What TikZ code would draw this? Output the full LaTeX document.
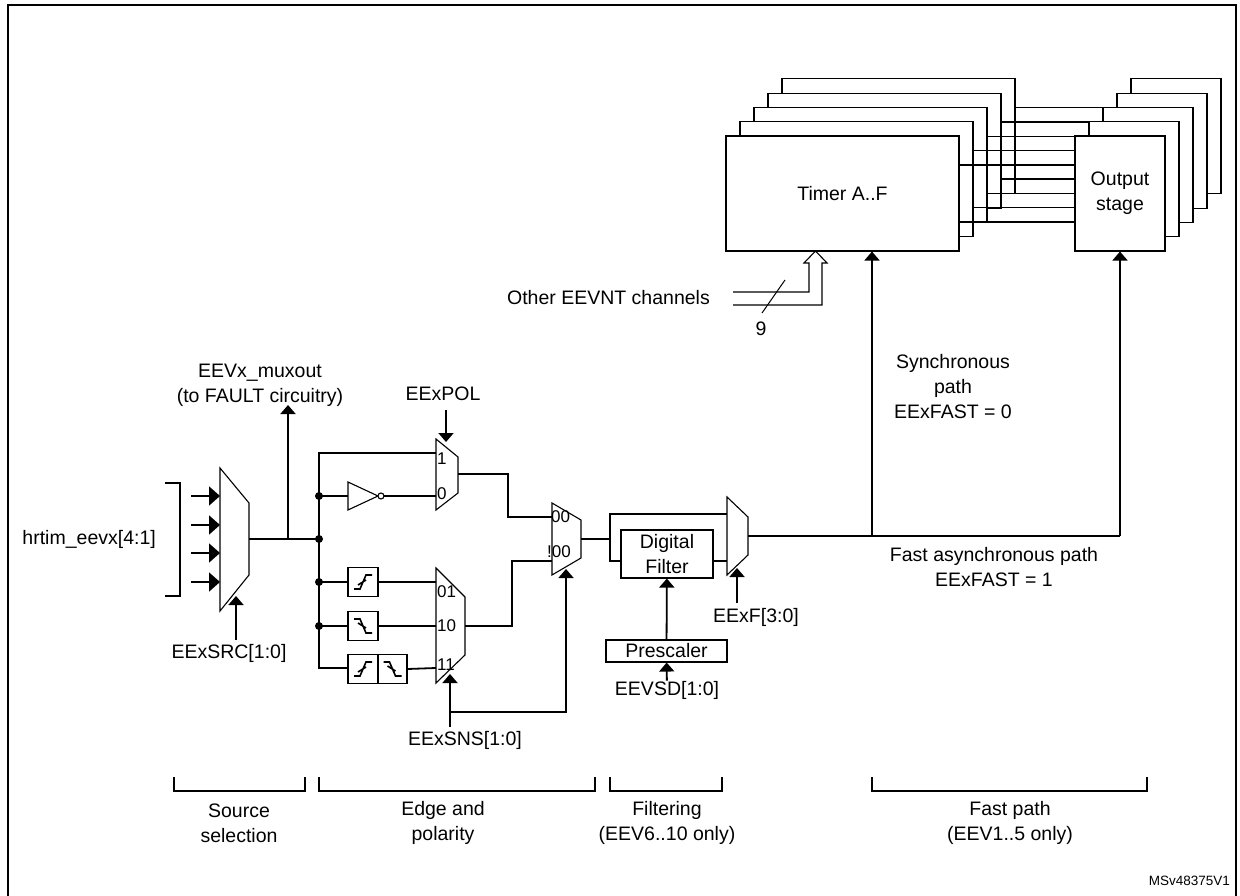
\documentclass[tikz,border=0pt]{standalone}
\usepackage{fontspec}
\setmainfont{Liberation Sans}
\usetikzlibrary{arrows.meta,positioning}

\tikzset{
  wire/.style={line width=1.8pt},
  sel/.style={wire,-{Triangle[length=9pt,width=15pt]}},
  inp/.style={wire,-{Triangle[length=11pt,width=19pt]}},
  blk/.style={draw,fill=white,line width=1.1pt,inner sep=0pt},
  txt/.style={font=\fontsize{19.5}{25}\selectfont,align=center,inner sep=0pt},
  sml/.style={font=\fontsize{17}{19}\selectfont,inner sep=1pt,anchor=west},
  dot/.style={circle,fill,inner sep=0pt,minimum size=8pt},
}
% mux outline: xl, xr, y left top, y left bottom, y right top, y right bottom
\newcommand{\muxbody}[6]{\draw[line width=1.1pt] (#1,#3) -- (#2,#5) -- (#2,#6) -- (#1,#4) -- cycle;}
% edge detectors drawn inside a box centred at (#1,#2)
\newcommand{\riseedge}[2]{\draw[line width=1.6pt,shift={(#1,#2)}] (-9,7) -- (-3,7) -- (3,-7) -- (9,-7) (-5,3) -- (3,-2);}
\newcommand{\falledge}[2]{\draw[line width=1.6pt,shift={(#1,#2)}] (-9,-7) -- (-3,-7) -- (3,7) -- (9,7) (-5,-3) -- (3,2);}

\begin{document}
\begin{tikzpicture}[x=1pt,y=-1pt]
  \useasboundingbox (0,0) rectangle (1240,896);
  \draw[line width=1.8pt] (8,900) -- (8,5) -- (1236,5) -- (1236,900);

  % timers and output stages, back to front
  \foreach \k in {4,3,2,1,0} {
    \node[blk,minimum width=233pt,minimum height=115pt] (tim\k) at (842.5+14*\k,193.5-14.3*\k) {};
    \node[blk,minimum width=90pt,minimum height=115pt] (out\k) at (1120+14*\k,193.5-14.3*\k) {};
    \draw[line width=1.4pt] (tim\k.east |- 0,165-14.3*\k) -- (out\k.west |- 0,165-14.3*\k);
    \draw[line width=1.4pt] (tim\k.east |- 0,222-14.3*\k) -- (out\k.west |- 0,222-14.3*\k);
  }
  \node[txt] at (tim0) {Timer A..F};
  \node[txt] at (out0) {Output\\stage};

  % other channels
  \node[txt,anchor=east] (other) at (710,298) {Other EEVNT channels};
  \draw[line width=1.1pt] (733,292) -- (809,292) -- (809,263) -- (804,263) -- (815.5,251)
    -- (827,263) -- (822,263) -- (822,305) -- (733,305);
  \draw[line width=1pt] (762,313) -- (785,280);
  \node[txt] (nine) at (761,329) {9};

  % source selection
  \node[txt,anchor=east] (hrin) at (156,539) {hrtim\_eevx[4:1]};
  \draw[line width=1.8pt] (165,483) -- (180,483) -- (180,596) -- (165,596);
  \foreach \y in {496,525,553,582} \draw[inp] (191,\y) -- (220,\y);
  \muxbody{220}{249}{468}{611}{503}{575}
  \coordinate (srcout) at (249,539);
  \node[txt] (src) at (229,653) {EExSRC[1:0]};
  \draw[sel] (236,640) -- (236,596);
  \node[txt] (muxout) at (260,385) {EEVx\_muxout\\(to FAULT circuitry)};
  \draw[sel] (288,539) -- (288,405);
  \draw[wire] (srcout) -- (319,539);

  % edge and polarity
  \draw[wire] (436,453) -- (319,453) -- (319,668) -- (348,668);
  \foreach \y in {496,539,582,626} \node[dot] at (319,\y) {};
  \draw[line width=1.1pt] (348,482) -- (378,496) -- (348,510) -- cycle;
  \draw[line width=1.1pt,fill=white] (381,496) circle (3pt);
  \draw[wire] (319,496) -- (348,496) (384,496) -- (436,496);
  \muxbody{436}{458}{439}{510}{457}{493}
  \node[sml] at (436,459) {1};
  \node[sml] at (436,494) {0};
  \node[txt] (pol) at (443,394) {EExPOL};
  \draw[sel] (446,410) -- (446,442);

  \node[blk,minimum width=30pt,minimum height=29pt] (ris) at (363,582) {};
  \node[blk,minimum width=30pt,minimum height=29pt] (fal) at (363,626) {};
  \node[blk,minimum width=30pt,minimum height=29pt] (bris) at (363,669) {};
  \node[blk,minimum width=29pt,minimum height=29pt] (bfal) at (392.5,669) {};
  \riseedge{363}{582} \falledge{363}{626} \riseedge{363}{669} \falledge{392.5}{669}
  \draw[wire] (319,582) -- (ris) -- (436,582);
  \draw[wire] (319,626) -- (fal) -- (436,626);
  \draw[wire] (bfal.east) -- (436,668);
  \muxbody{436}{465}{568}{683}{597}{655}
  \node[sml] at (436,592) {01};
  \node[sml] at (436,626) {10};
  \node[sml] at (436,665) {11};
  \node[txt] (sns) at (465,740) {EExSNS[1:0]};
  \draw[sel] (450,727) -- (450,674);
  \draw[sel] (450,712) -- (566,712) -- (566,569);

  \draw[wire] (458,474) -- (508,474) -- (508,517) -- (552,517);
  \draw[wire] (465,626) -- (512,626) -- (512,561) -- (552,561);
  \muxbody{552}{581}{503}{575}{520}{558}
  \node[sml] at (550,517) {00};
  \node[sml] at (546,552) {!00};

  % filtering
  \node[blk,txt,minimum width=92pt,minimum height=48pt] (filt) at (667,554) {Digital\\Filter};
  \node[blk,txt,minimum width=121pt,minimum height=22pt] (pres) at (666.5,651) {Prescaler};
  \node[txt] (sd) at (667,690) {EEVSD[1:0]};
  \draw[sel] (pres) -- (filt);
  \draw[sel] (sd) -- (pres);
  \draw[wire] (581,539) -- (610,539);
  \draw[wire] (727,514) -- (610,514) -- (610,561) -- (filt.west |- 0,561);
  \draw[wire] (filt.east |- 0,561) -- (727,561);
  \muxbody{727}{748}{497}{575}{517}{555}
  \node[txt] (eef) at (756,617) {EExF[3:0]};
  \draw[sel] (737,603) -- (737,568);

  % fast path
  \draw[wire] (748,536) -- (1120,536);
  \draw[sel] (872,536) -- (tim0.south -| 872,0);
  \draw[sel] (1120,536) -- (out0);
  \node[txt] (sync) at (953,387) {Synchronous\\path\\EExFAST = 0};
  \node[txt] (fast) at (994,567) {Fast asynchronous path\\EExFAST = 1};

  % section brackets
  \foreach \a/\b/\c/\t in {174/305/239/Source\\selection, 319/595/443/Edge and\\polarity,
      610/722/667/Filtering\\(EEV6..10 only), 872/1147/1010/Fast path\\(EEV1..5 only)} {
    \draw[line width=1.6pt] (\a,777) -- (\a,791) -- (\b,791) -- (\b,777);
    \node[txt] at (\c,823) {\t};
  }
  \node[font=\fontsize{13.5}{15}\selectfont,anchor=east,inner sep=0pt] (ref) at (1230,881) {MSv48375V1};
\end{tikzpicture}
\end{document}
